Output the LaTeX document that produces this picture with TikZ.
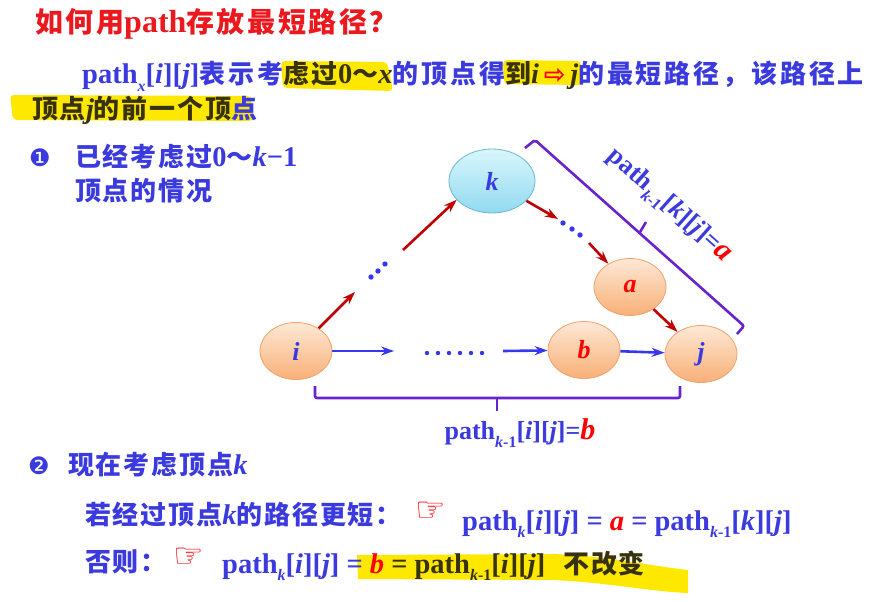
\documentclass[tikz,border=0pt]{standalone}
\usepackage{fontspec}
\setmainfont{Liberation Serif}
\newfontfamily\zhfont{Noto Sans CJK SC}[LetterSpace=7]
\newfontfamily\zhwide{Noto Sans CJK SC}[LetterSpace=11]
\newfontfamily\zhtitle{Noto Sans CJK SC}[LetterSpace=9]
\newfontfamily\symfont{DejaVu Sans}
\usetikzlibrary{arrows.meta,shapes.geometric}
\definecolor{txtblue}{RGB}{58,58,222}
\definecolor{hltext}{RGB}{55,50,12}
\definecolor{titlered}{RGB}{235,25,30}
\definecolor{darkred}{RGB}{192,0,0}
\definecolor{arrblue}{RGB}{55,55,240}
\definecolor{brk}{RGB}{105,35,205}
\definecolor{hl}{RGB}{255,232,0}
\definecolor{orA}{RGB}{253,232,214}
\definecolor{orB}{RGB}{248,176,118}
\definecolor{orD}{RGB}{238,162,108}
\definecolor{blA}{RGB}{218,246,253}
\definecolor{blB}{RGB}{145,218,240}
\definecolor{blD}{RGB}{105,185,205}
\newcommand\V[1]{{\bfseries\itshape #1}}
\newcommand\Z[1]{{\fontsize{26}{30}\selectfont\zhfont\bfseries #1}}
\newcommand\W[1]{{\fontsize{26}{30}\selectfont\zhwide\bfseries #1}}
\newcommand\D[1]{{\color{hltext}#1}}
\newcommand\sbs[1]{\raisebox{-0.28em}{\fontsize{16}{16}\selectfont\bfseries #1}}
\newcommand\km{{\itshape k}-1}
\tikzset{
  onode/.style={ellipse, draw=orD, line width=0.8pt, top color=orA, bottom color=orB,
    minimum width=72pt, minimum height=57pt, inner sep=0pt,
    font=\fontsize{26}{26}\selectfont\bfseries\itshape},
  knode/.style={onode, draw=blD, top color=blA, bottom color=blB,
    minimum width=86pt, minimum height=64pt},
  rarr/.style={draw=darkred, line width=2.6pt, -{Stealth[length=13pt,width=9pt]}},
  barr/.style={draw=arrblue, line width=2.6pt, -{Stealth[length=13pt,width=9pt]}},
  bracepath/.style={draw=brk, line width=2.6pt, rounded corners=2pt},
  txt/.style={inner sep=0pt, anchor=base west, text=txtblue,
    font=\fontsize{28.5}{32}\selectfont\bfseries},
  hand/.style={text=red, inner sep=0pt, font=\symfont\fontsize{34}{34}\selectfont},
  bullet/.style={text=txtblue, inner sep=0pt, font=\symfont\fontsize{24}{24}\selectfont},
  hlmark/.style={fill=hl, rounded corners=4pt},
}
\begin{document}
\begin{tikzpicture}[x=1pt,y=-1pt]
\useasboundingbox (0,0) rectangle (883,602);
\fill[white] (0,0) rectangle (883,602);

% highlighter strokes (behind the text)
\fill[hlmark] (281,61) -- (387,62) -- (393,91) -- (283,88) -- cycle;
\fill[hlmark] (503,60) -- (581,61) -- (582,85) -- (504,84) -- cycle;
\fill[hlmark] (10,95) -- (251,96) -- (253,121) -- (13,120) -- cycle;
\fill[hl] (357,555) -- (552,554) .. controls (610,556) and (650,566) .. (688,570)
  -- (688,593) .. controls (645,591) and (605,582) .. (552,580) -- (358,579) -- cycle;

% title and paragraph
\node[inner sep=0pt, anchor=base west, text=titlered,
  font=\fontsize{28}{30}\selectfont\zhtitle\bfseries] (title) at (35,33)
  {如何用{\rmfamily\fontsize{32}{32}\selectfont\bfseries path}存放最短路径？};
\node[txt] (l2) at (82,84)
  {path\sbs{\itshape x}[\V{i}][\V{j}]\W{表示考}\D{\W{虑过}0\W{～}\V{x}}\W{的顶点得}\D{\W{到}\V{i}\,{\symfont\fontsize{26}{26}\selectfont\color{red}⇨}\,\V{j}}\W{的最短路径，该路径上}};
\node[txt, text=hltext] (l3) at (32,118) {\Z{顶点}\V{j}\Z{的前一个顶}{\color{txtblue}\Z{点}}};

% item 1
\node[bullet] (n1) at (40,158) {❶};
\node[txt] (t1a) at (75,166) {\Z{已经考虑过}0\Z{～}\V{k}−1};
\node[txt] (t1b) at (75,200) {\Z{顶点的情况}};

% graph nodes
\node[onode, text=txtblue] (i) at (296,351) {i};
\node[knode, text=txtblue] (k) at (492,181) {k};
\node[onode, text=red] (a) at (630,287) {a};
\node[onode, text=red] (b) at (584,350) {b};
\node[onode, text=txtblue] (j) at (701,354) {j};

\coordinate (d1s) at (355,292);
\coordinate (d1e) at (403,250);
\coordinate (d2s) at (558,219);
\coordinate (d2e) at (589,243);
\coordinate (d3s) at (394,351);
\coordinate (d3e) at (503,351);

\draw[rarr] (i) -- (d1s);
\draw[rarr] (d1e) -- (k.208);
\draw[rarr] (k) -- (d2s);
\draw[rarr] (d2e) -- (a);
\draw[rarr] (a) -- (j);
\draw[barr] (i) -- (d3s);
\draw[barr] (d3e) -- (b);
\draw[barr] (b) -- (j);

% dots
\foreach \p/\q in {371/277,378/271,385/264,563/223,572/229,580/235}
  \fill[arrblue] (\p,\q) circle (2.7pt);
\foreach \p in {427,438,449,460,471,482}
  \fill[arrblue] (\p,353) circle (2.2pt);

% bottom bracket
\draw[bracepath] (315,386) -- (315,398) -- (680,398) -- (680,386);
\draw[bracepath] (497,398) -- (497,411);
\node[inner sep=0pt, text=txtblue, font=\fontsize{26}{28}\selectfont\bfseries] (lb) at (520,433)
  {path\sbs{\km}[\V{i}][\V{j}]={\color{red}\fontsize{30}{30}\selectfont\V{b}}};

% diagonal bracket
\draw[bracepath] (525,148) -- (535,140) -- (744,326) -- (737,334);
\draw[bracepath] (639.5,233) -- (646,222);
\node[inner sep=0pt, rotate=-41.67, text=txtblue, font=\fontsize{26}{28}\selectfont\bfseries] (la) at (669,206)
  {path\sbs{\km}[\V{k}][\V{j}]={\color{red}\fontsize{30}{30}\selectfont\V{a}}};

% item 2
\node[bullet] (n2) at (39,466) {❷};
\node[txt] (t2a) at (68,474) {\Z{现在考虑顶点}\V{k}};
\node[txt] (t2b) at (85,524) {\Z{若经过顶点}\V{k}\Z{的路径更短：}};
\node[hand] (h1) at (431,512) {☞};
\node[txt] (f1) at (462,530)
  {path\sbs{\itshape k}[\V{i}][\V{j}] = {\color{red}\V{a}} = path\sbs{\km}[\V{k}][\V{j}]};
\node[txt] (t2c) at (85,571) {\Z{否则：}};
\node[hand] (h2) at (189,558) {☞};
\node[txt] (f2) at (222,573)
  {path\sbs{\itshape k}[\V{i}][\V{j}] = {\color{red}\V{b}} \D{= path\sbs{\km}[\V{i}][\V{j}]\hspace{18pt}\Z{不改变}}};
\end{tikzpicture}
\end{document}
